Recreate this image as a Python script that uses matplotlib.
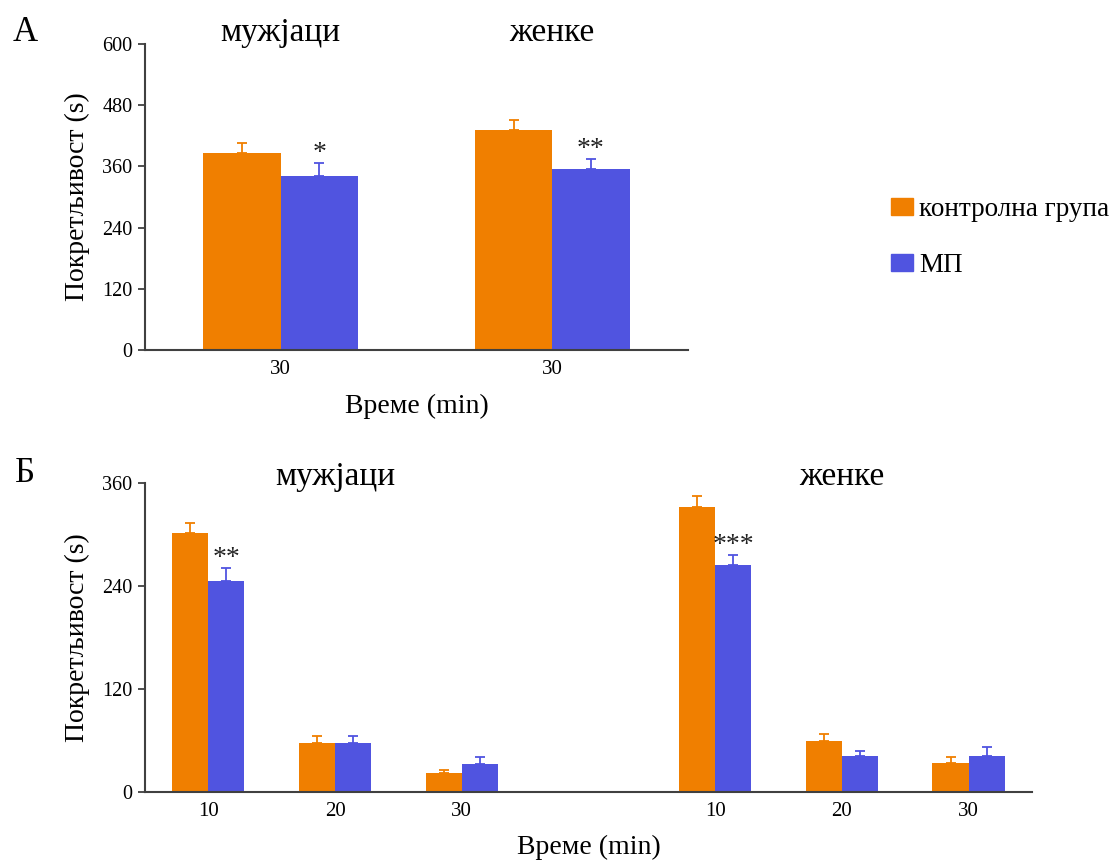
import numpy as np
import matplotlib
matplotlib.use('Agg')
import matplotlib.pyplot as plt
from matplotlib.patches import Patch
from matplotlib.transforms import blended_transform_factory

plt.rcParams['font.family'] = ['Liberation Serif', 'DejaVu Serif']

ORANGE = '#F07F00'
BLUE = '#5054E0'
AXC = '#404040'

# Панел А
a_ticks = ['30', '30']
a_kontrola = [386, 431]
a_kontrola_err = [20, 20]
a_mp = [341, 355]
a_mp_err = [25, 20]
a_stars = ['*', '**']

# Панел Б
b_ticks = ['10', '20', '30', '10', '20', '30']
b_pos = [0, 1, 2, 4, 5, 6]
b_kontrola = [301.5, 57.5, 21.7, 332, 59.4, 33.8]
b_kontrola_err = [11.6, 8, 4, 13, 7.8, 6.6]
b_mp = [245.5, 57.5, 32.6, 265, 41.4, 41.4]
b_mp_err = [15, 8, 7.8, 11, 5.8, 11.4]
b_stars = ['**', '', '', '***', '', '']

fig = plt.figure(figsize=(11.18, 8.6), dpi=100)
ax1 = fig.add_axes([0.1297, 0.593, 0.4857, 0.3558])
ax2 = fig.add_axes([0.1297, 0.0791, 0.7933, 0.3593])

w = 0.285


def draw(ax, pos, k, kerr, m, merr, stars, ticks, ymax, step, xpad):
    pos = np.array(pos, dtype=float)
    ax.bar(pos - w / 2, k, w, color=ORANGE,
           yerr=[np.zeros(len(k)), kerr], ecolor=ORANGE,
           error_kw=dict(capsize=3.5, elinewidth=1.3, capthick=1.3))
    ax.bar(pos + w / 2, m, w, color=BLUE,
           yerr=[np.zeros(len(m)), merr], ecolor=BLUE,
           error_kw=dict(capsize=3.5, elinewidth=1.3, capthick=1.3))
    for x, v, e, s in zip(pos, m, merr, stars):
        if s:
            ax.annotate(s, (x + w / 2, v + e), xytext=(0, -2),
                        textcoords='offset points', ha='center', va='bottom',
                        fontsize=20, color='#222222')
    ax.set_xticks(pos)
    ax.set_xticklabels(ticks)
    ax.set_xlim(-0.5, pos[-1] + 0.5)
    ax.set_ylim(0, ymax)
    ax.set_yticks(np.arange(0, ymax + 1, step))
    for s in ['top', 'right']:
        ax.spines[s].set_visible(False)
    for s in ['left', 'bottom']:
        ax.spines[s].set_color(AXC)
        ax.spines[s].set_linewidth(1.5)
    ax.tick_params(axis='x', length=0, pad=7, labelsize=15)
    ax.tick_params(axis='y', length=5, width=1.3, color=AXC, labelsize=14.5, pad=4)
    ax.set_ylabel('Покретљивост (s)', fontsize=20, labelpad=9)
    ax.set_xlabel('Време (min)', fontsize=20, labelpad=xpad)


draw(ax1, [0, 1], a_kontrola, a_kontrola_err, a_mp, a_mp_err, a_stars,
     a_ticks, 600, 120, 11)
draw(ax2, b_pos, b_kontrola, b_kontrola_err, b_mp, b_mp_err, b_stars,
     b_ticks, 360, 120, 10)

t1 = blended_transform_factory(ax1.transData, ax1.transAxes)
ax1.text(0, 1.01, 'мужјаци', transform=t1, ha='center', va='baseline', fontsize=24)
ax1.text(1, 1.01, 'женке', transform=t1, ha='center', va='baseline', fontsize=24)
t2 = blended_transform_factory(ax2.transData, ax2.transAxes)
ax2.text(1, 0.995, 'мужјаци', transform=t2, ha='center', va='baseline', fontsize=24)
ax2.text(5, 0.995, 'женке', transform=t2, ha='center', va='baseline', fontsize=24)

fig.text(0.011, 0.962, 'А', fontsize=25, ha='left', va='center')
fig.text(0.013, 0.450, 'Б', fontsize=25, ha='left', va='center')

handles = [Patch(color=ORANGE), Patch(color=BLUE)]
fig.legend(handles, ['контролна група', 'МП'], loc='upper left',
           bbox_to_anchor=(0.797, 0.771), frameon=False, fontsize=19.5,
           borderpad=0, borderaxespad=0,
           handlelength=0.8, handleheight=0.6, handletextpad=0.25,
           labelspacing=1.15)

fig.savefig('out.png', dpi=100)
